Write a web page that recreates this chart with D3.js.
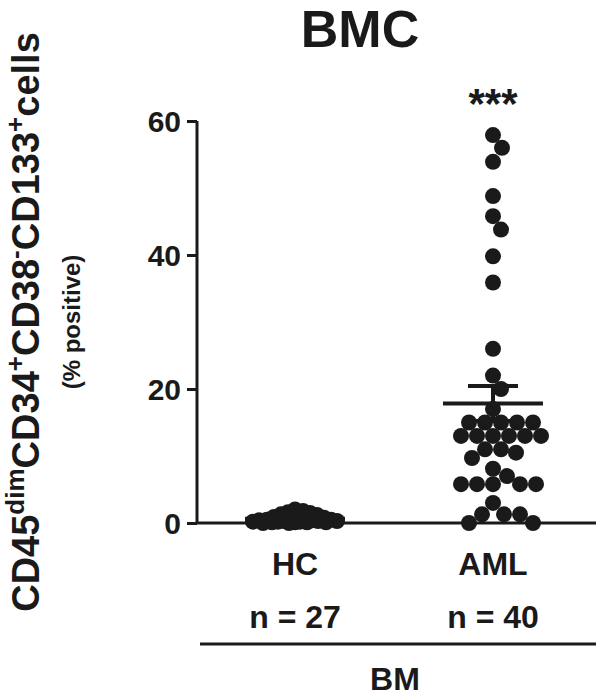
<!DOCTYPE html>
<html><head><meta charset="utf-8">
<script src="https://cdn.jsdelivr.net/npm/d3@7"></script>
<style>body{margin:0;background:#fff}text{font-family:"Liberation Sans",Arial,sans-serif;font-weight:bold;fill:#1a1a1a}</style>
</head><body><svg id="c" width="596" height="697"></svg>
<script>
const groups = ["HC", "AML"];
const groupN = ["n = 27", "n = 40"];
const hcValues = [2.0,1.8,1.6,1.5,1.3,1.2,1.0,0.9,0.8,0.7,0.6,0.5,0.5,0.4,0.4,0.3,0.3,0.3,0.2,0.2,0.2,0.1,0.1,0.1,0.1,0.0,0.0];
const amlValues = [57.9,56.0,53.9,48.8,45.8,43.8,39.8,35.9,26,22,20,17,15,15,15,15,15,13,13,13,13,13,13,11,11,10.5,9.7,8.1,7,5.8,5.8,5.8,5.8,5.8,3,1.3,1.3,1.3,0,0];
const yTicks = [0,20,40,60];

const svg = d3.select("#c"), ink = "#1a1a1a";
const y = d3.scaleLinear().domain([0,60]).range([523,121]);
const x = d3.scalePoint().domain(groups).range([295,493]);
const r = 8;

const yAxis = svg.append("g").attr("transform","translate(197,0)").call(d3.axisLeft(y).tickValues(yTicks).tickSize(10).tickPadding(6));
yAxis.select(".domain").attr("stroke",ink).attr("stroke-width",3).attr("d","M0,"+y(60)+"V"+y(0));
yAxis.selectAll(".tick line").attr("stroke",ink).attr("stroke-width",3);
yAxis.selectAll(".tick text").attr("font-size",30).style("font-family","Liberation Sans").style("font-weight","bold").attr("fill",ink).attr("dy","0.36em");
svg.append("line").attr("x1",197).attr("x2",596).attr("y1",y(0)).attr("y2",y(0)).attr("stroke",ink).attr("stroke-width",3);

function swarm(vals, cx, factor, maxOff){
  const placed=[];
  const sorted=vals.slice().sort((a,b)=>b-a);
  sorted.forEach(v=>{
    const py=y(v);
    let best=null, bestD=-1, bestX=cx;
    for(let k=0;k<=2*maxOff;k++){
      const off=(k%2?1:-1)*Math.ceil(k/2);
      const px=cx+off;
      const d=placed.length?Math.min(...placed.map(p=>Math.hypot(p[0]-px,p[1]-py))):1e9;
      if(d>=2*r*factor){best=px;break;}
      if(d>bestD){bestD=d;bestX=px;}
    }
    placed.push([best===null?bestX:best,py]);
  });
  return placed;
}
[[hcValues,"HC",0.45,42],[amlValues,"AML",0.95,48]].forEach(([vals,g,f,mo])=>{
  const cx=x(g);
  const pts=swarm(vals,cx,f,mo);
  svg.append("g").selectAll("circle").data(pts).join("circle")
    .attr("cx",d=>d[0]).attr("cy",d=>d[1]).attr("r",r).attr("fill",ink);
  const m=d3.mean(vals), sem=d3.deviation(vals)/Math.sqrt(vals.length);
  const g2=svg.append("g").attr("stroke",ink).attr("stroke-width",4);
  g2.append("line").attr("x1",cx-50).attr("x2",cx+50).attr("y1",y(m)).attr("y2",y(m));
  g2.append("line").attr("x1",cx).attr("x2",cx).attr("y1",y(m-sem)).attr("y2",y(m+sem));
  g2.append("line").attr("x1",cx-25).attr("x2",cx+25).attr("y1",y(m+sem)).attr("y2",y(m+sem));
  g2.append("line").attr("x1",cx-25).attr("x2",cx+25).attr("y1",y(m-sem)).attr("y2",y(m-sem));
});

groups.forEach((g,i)=>{
  svg.append("text").attr("x",x(g)).attr("y",575).attr("text-anchor","middle").attr("font-size",32).text(g);
  svg.append("text").attr("x",x(g)).attr("y",628).attr("text-anchor","middle").attr("font-size",32).text(groupN[i]);
});
svg.append("line").attr("x1",200).attr("x2",596).attr("y1",644).attr("y2",644).attr("stroke",ink).attr("stroke-width",3);
svg.append("text").attr("x",395).attr("y",690).attr("text-anchor","middle").attr("font-size",32).text("BM");
svg.append("text").attr("x",360).attr("y",47).attr("text-anchor","middle").attr("font-size",52).text("BMC");
svg.append("text").attr("x",x("AML")).attr("y",118).attr("text-anchor","middle").attr("font-size",42).text("***");

const yl=svg.append("text").attr("transform","translate(39,322) rotate(-90)").attr("text-anchor","middle").attr("font-size",38);
const parts=[["CD45",0],["dim",1],["CD34",0],["+",1],["CD38",0],["-",1],["CD133",0],["+",1],["cells",0]];
parts.forEach(([t,s],i)=>{
  yl.append("tspan").attr("font-size",s?26:38).attr("dy",i===0?0:(s?-15:15)).text(t);
});
svg.append("text").attr("transform","translate(80,322) rotate(-90)").attr("text-anchor","middle").attr("font-size",24).text("(% positive)");
</script></body></html>
